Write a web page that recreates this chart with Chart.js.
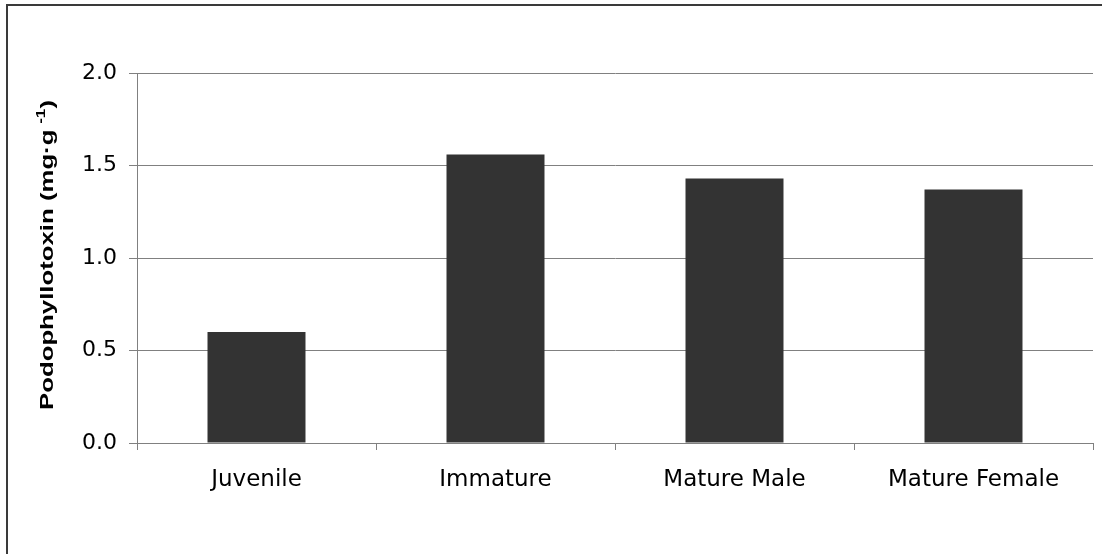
<!DOCTYPE html>
<html>
<head>
<meta charset="utf-8">
<script src="https://cdn.jsdelivr.net/npm/chart.js@4.4.1/dist/chart.umd.min.js"></script>
<style>
  html, body { margin: 0; padding: 0; background: #fff; }
  canvas { display: block; }
</style>
</head>
<body>
<canvas id="c" width="1102" height="554"></canvas>
<script>
const categories = ['Juvenile', 'Immature', 'Mature Male', 'Mature Female'];
const values = [0.60, 1.56, 1.43, 1.37];
const yTickValues = [0.0, 0.5, 1.0, 1.5, 2.0];
const yTitleMain = 'Podophyllotoxin (mg·g';
const yTitleSup = '-1';
const yTitleEnd = ')';

const framePlugin = {
  id: 'frame',
  beforeDraw(chart) {
    const ctx = chart.ctx;
    ctx.save();
    ctx.fillStyle = '#ffffff';
    ctx.fillRect(0, 0, chart.width, chart.height);
    ctx.strokeStyle = '#3a3a3a';
    ctx.lineWidth = 2;
    ctx.strokeRect(7, 5, 1200, 1200);
    ctx.restore();
  }
};

const yTitlePlugin = {
  id: 'ytitle',
  afterDraw(chart) {
    const ctx = chart.ctx;
    ctx.save();
    ctx.fillStyle = '#000';
    ctx.textBaseline = 'alphabetic';
    ctx.textAlign = 'left';
    const mainFont = 'bold 18px "Liberation Sans", Arial, sans-serif';
    const supFont = 'bold 12px "Liberation Sans", Arial, sans-serif';
    ctx.font = mainFont;
    const wMain = ctx.measureText(yTitleMain).width;
    const wEnd = ctx.measureText(yTitleEnd).width;
    ctx.font = supFont;
    const wSup = ctx.measureText(yTitleSup).width;
    const gap = 4;
    const total = wMain + gap + wSup + wEnd;
    const target = 310;
    const sx = target / total;
    ctx.translate(53, 410);
    ctx.rotate(-Math.PI / 2);
    ctx.scale(sx, 1);
    ctx.font = mainFont;
    ctx.fillText(yTitleMain, 0, 0);
    ctx.font = supFont;
    ctx.fillText(yTitleSup, wMain + gap, -8);
    ctx.font = mainFont;
    ctx.fillText(yTitleEnd, wMain + gap + wSup, 0);
    ctx.restore();
  }
};

new Chart(document.getElementById('c'), {
  type: 'bar',
  data: {
    labels: categories,
    datasets: [{
      data: values,
      backgroundColor: '#333333',
      borderWidth: 0,
      barPercentage: 0.41,
      categoryPercentage: 1.0
    }]
  },
  options: {
    responsive: false,
    animation: false,
    devicePixelRatio: 1,
    layout: { padding: { top: 73, right: 9, bottom: 0, left: 0 } },
    plugins: {
      legend: { display: false },
      tooltip: { enabled: false },
      title: { display: false }
    },
    scales: {
      x: {
        offset: true,
        grid: {
          offset: true,
          drawOnChartArea: false,
          drawTicks: true,
          tickLength: 7,
          tickColor: '#808080',
          lineWidth: 1
        },
        border: { display: true, color: '#808080', width: 1 },
        ticks: {
          color: '#000',
          font: { family: '"DejaVu Sans", sans-serif', size: 23 },
          padding: 16,
          maxRotation: 0
        },
        afterFit(s) { s.height = 111; }
      },
      y: {
        min: 0,
        max: 2,
        afterBuildTicks(s) { s.ticks = yTickValues.map(v => ({ value: v })); },
        grid: {
          color: '#808080',
          lineWidth: 1,
          drawTicks: true,
          tickLength: 8,
          tickColor: '#808080'
        },
        border: { display: true, color: '#808080', width: 1 },
        ticks: {
          color: '#000',
          font: { family: '"DejaVu Sans", sans-serif', size: 22 },
          padding: 12,
          callback: v => Number(v).toFixed(1)
        },
        afterFit(s) { s.width = 137; }
      }
    }
  },
  plugins: [framePlugin, yTitlePlugin]
});
</script>
</body>
</html>
